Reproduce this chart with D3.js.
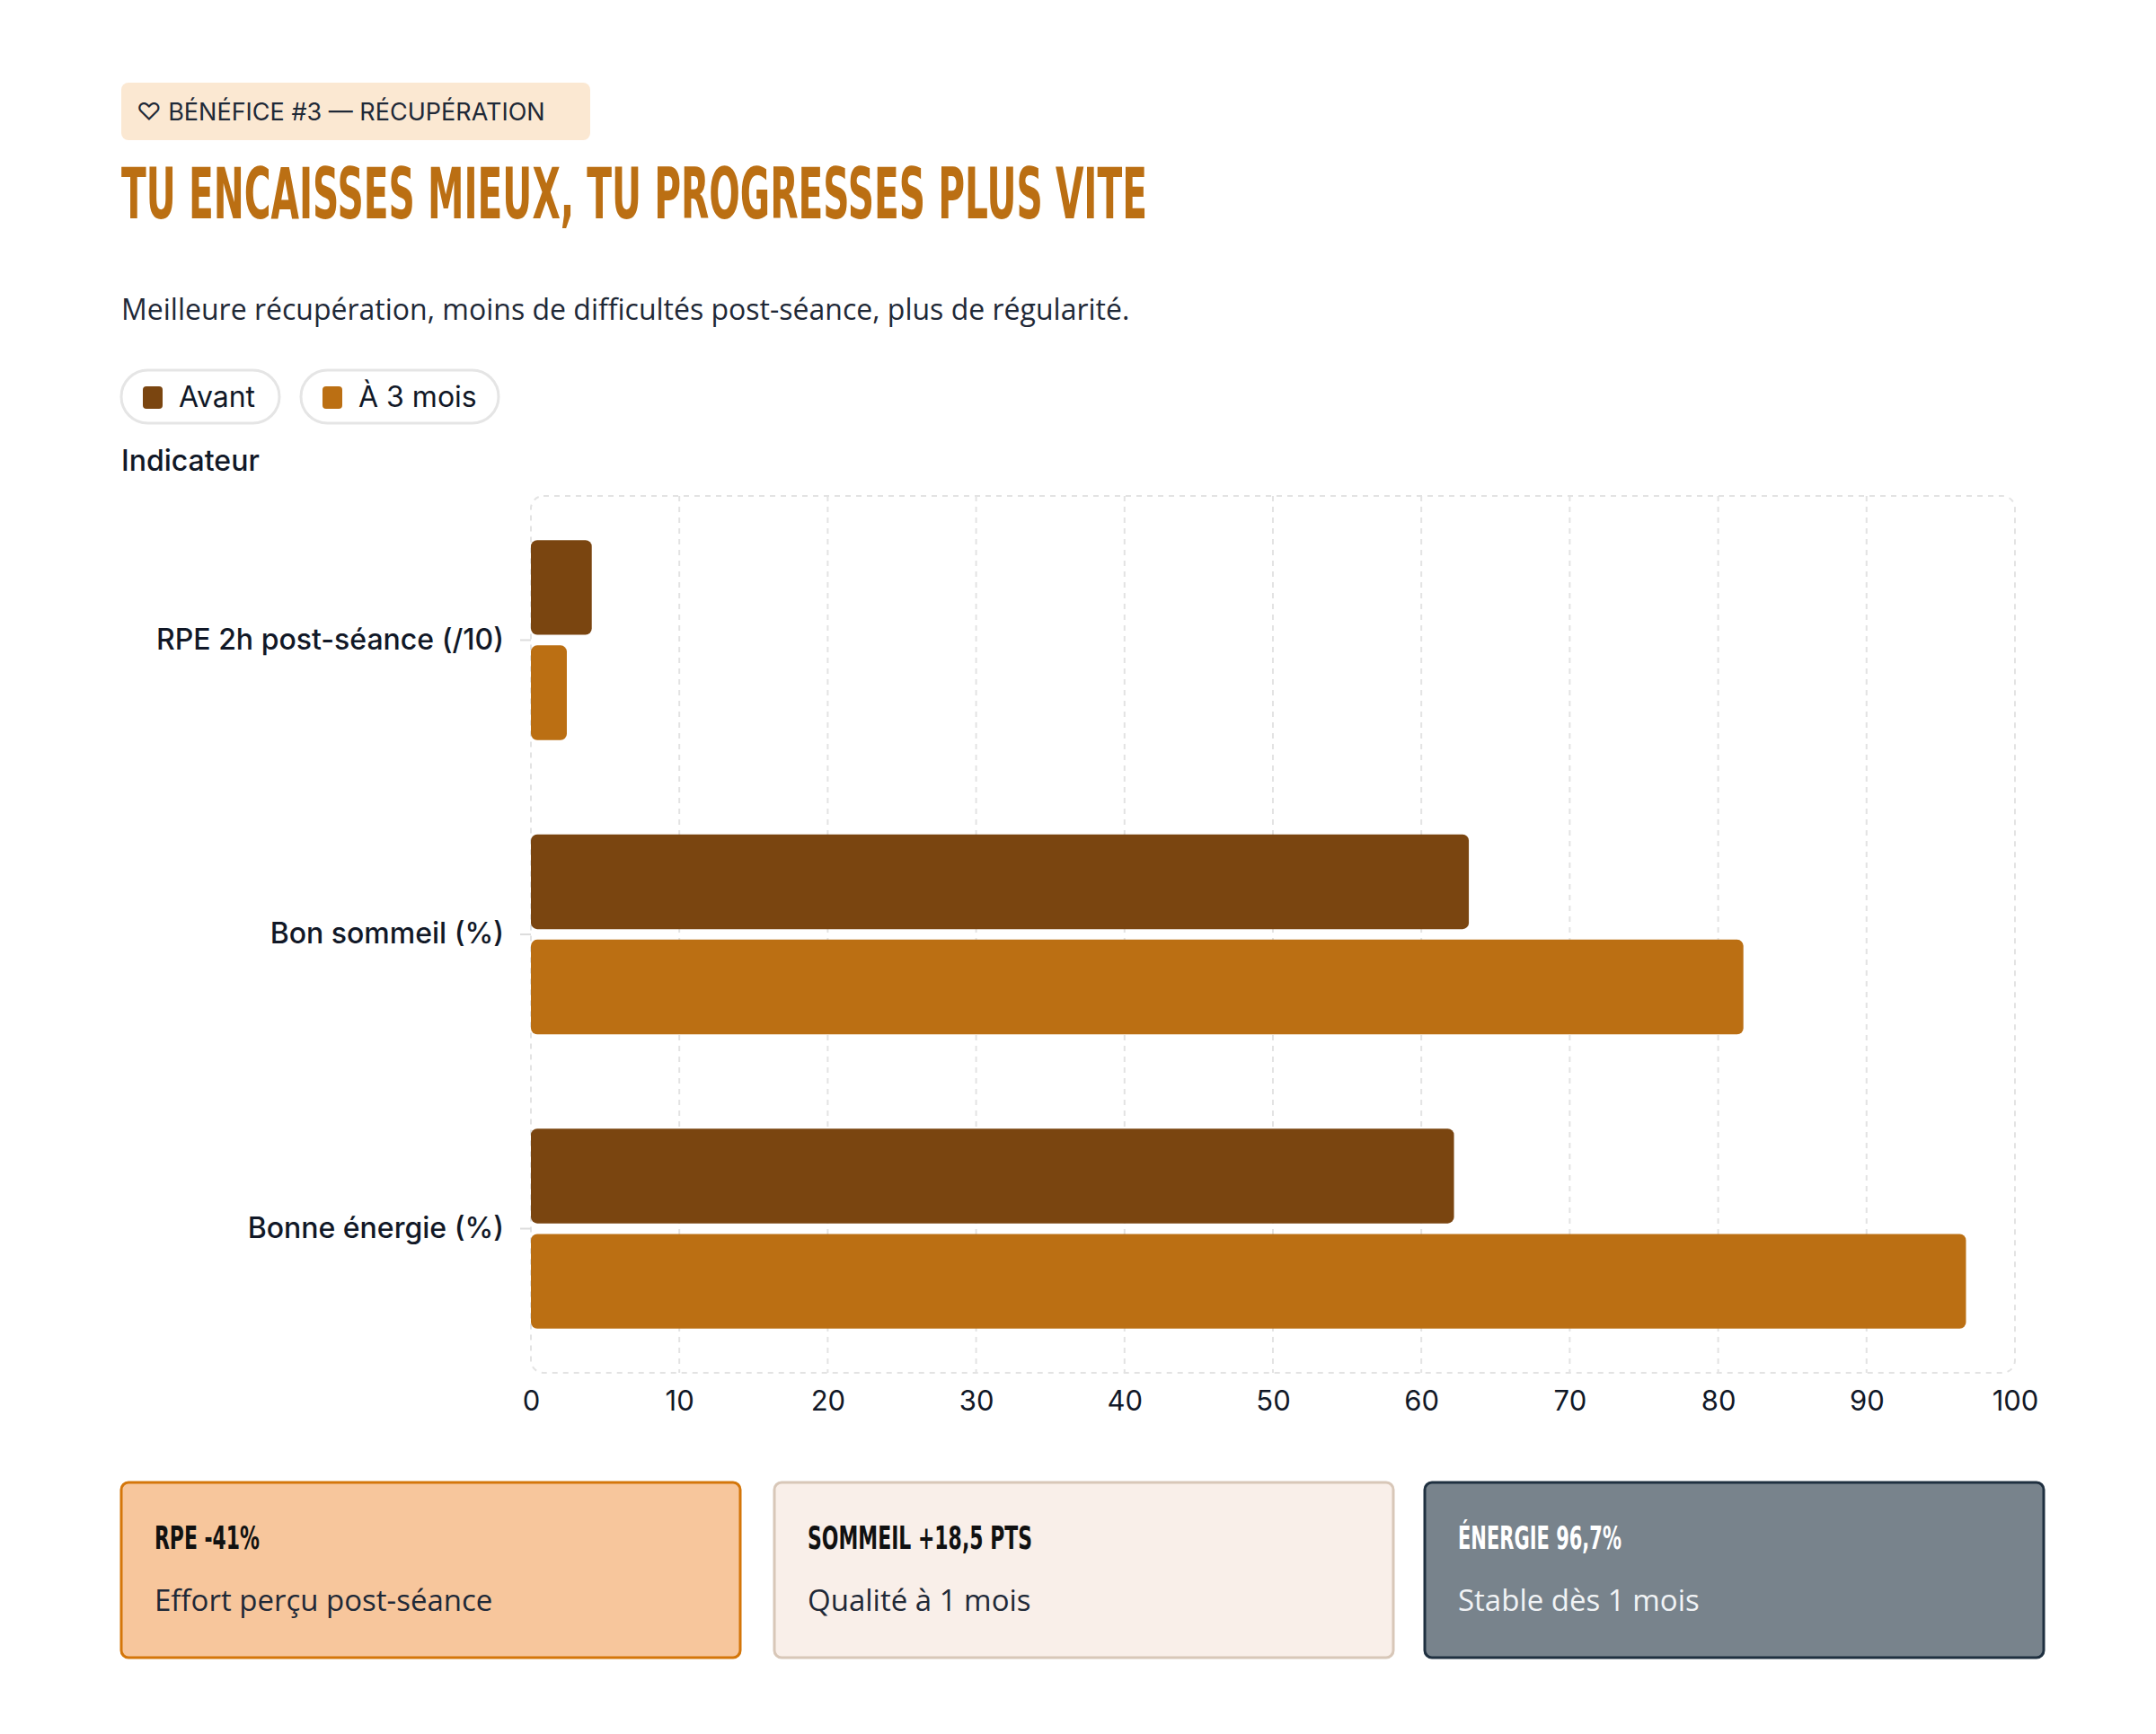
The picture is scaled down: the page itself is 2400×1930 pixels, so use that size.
<!DOCTYPE html>
<html><head><meta charset="utf-8">
<script src="https://cdn.jsdelivr.net/npm/d3@7"></script>
<style>body{margin:0;background:#fff}svg{display:block}</style>
</head><body>
<script>
const categories = ['RPE 2h post-séance (/10)', 'Bon sommeil (%)', 'Bonne énergie (%)'];
const seriesNames = ['Avant', 'À 3 mois'];
const avant = [4.1, 63.2, 62.2];
const apres = [2.42, 81.7, 96.7];
const xTicks = [0, 10, 20, 30, 40, 50, 60, 70, 80, 90, 100];
const cardTitles = ['RPE -41%', 'SOMMEIL +18,5 PTS', 'ÉNERGIE 96,7%'];
const cardTexts = ['Effort perçu post-séance', 'Qualité à 1 mois', 'Stable dès 1 mois'];

const W = 2400, H = 1930;
const colors = ['#7a4510', '#bb6f13'];
const sans = 'Inter, "Noto Sans", sans-serif';
const cond = '"DejaVu Sans", sans-serif';
const svg = d3.select('body').append('svg').attr('width', W).attr('height', H);

// badge
svg.append('rect').attr('x', 135).attr('y', 92).attr('width', 522).attr('height', 64).attr('rx', 8).attr('fill', '#fbe8d2');
svg.append('text').attr('x', 152).attr('y', 134).attr('font-family', sans).attr('font-size', 27).attr('fill', '#1f2937')
  .text('♡ BÉNÉFICE #3 — RÉCUPÉRATION');

// title
svg.append('text').attr('x', 135).attr('y', 243).attr('font-family', cond).attr('font-weight', 'bold')
  .attr('font-size', 78).attr('fill', '#bb6f13').attr('textLength', 1142).attr('lengthAdjust', 'spacingAndGlyphs')
  .text('TU ENCAISSES MIEUX, TU PROGRESSES PLUS VITE');

svg.append('text').attr('x', 135).attr('y', 356).attr('font-family', '"Open Sans", sans-serif').attr('font-size', 32)
  .attr('fill', '#1f2937').text('Meilleure récupération, moins de difficultés post-séance, plus de régularité.');

// legend
const pills = [[135, 176], [335, 220]];
seriesNames.forEach((n, i) => {
  const g = svg.append('g').attr('transform', `translate(${pills[i][0]},412)`);
  g.append('rect').attr('width', pills[i][1]).attr('height', 59).attr('rx', 29.5).attr('fill', '#fff').attr('stroke', '#e5e5e5').attr('stroke-width', 3);
  g.append('rect').attr('x', 24).attr('y', 18).attr('width', 22).attr('height', 25).attr('rx', 4).attr('fill', colors[i]);
  g.append('text').attr('x', 64).attr('y', 41).attr('font-family', sans).attr('font-size', 32).attr('fill', '#111827').text(n);
});

svg.append('text').attr('x', 135).attr('y', 524).attr('font-family', sans).attr('font-size', 32).attr('font-weight', 500)
  .attr('fill', '#111827').text('Indicateur');

// chart
const x = d3.scaleLinear().domain([0, 100]).range([591, 2243]);
const y = d3.scaleBand().domain(categories).range([552, 1528]).paddingInner(0.32).paddingOuter(0.15);
const ys = d3.scaleBand().domain(seriesNames).range([0, y.bandwidth()]).paddingInner(0.1);

svg.append('rect').attr('x', 591).attr('y', 552).attr('width', 1652).attr('height', 976).attr('rx', 14)
  .attr('fill', 'none').attr('stroke', '#e3e3e3').attr('stroke-width', 2).attr('stroke-dasharray', '6,6');
svg.append('g').selectAll('line').data(xTicks.slice(1, -1)).join('line')
  .attr('x1', d => x(d)).attr('x2', d => x(d)).attr('y1', 552).attr('y2', 1528)
  .attr('stroke', '#e3e3e3').attr('stroke-width', 2).attr('stroke-dasharray', '6,6');

const gx = svg.append('g').attr('transform', 'translate(0,1528)')
  .call(d3.axisBottom(x).tickValues(xTicks).tickSize(0).tickPadding(20));
gx.select('.domain').remove();
gx.selectAll('text').attr('font-family', sans).attr('font-size', 31).attr('fill', '#111827');

const gy = svg.append('g').attr('transform', 'translate(591,0)')
  .call(d3.axisLeft(y).tickSize(12).tickPadding(18));
gy.select('.domain').remove();
gy.selectAll('line').attr('stroke', '#dddddd').attr('stroke-width', 2);
gy.selectAll('text').attr('font-family', sans).attr('font-size', 32).attr('font-weight', 500).attr('fill', '#111827');

const data = categories.flatMap((c, i) => [
  { c, s: seriesNames[0], v: avant[i], col: colors[0] },
  { c, s: seriesNames[1], v: apres[i], col: colors[1] }
]);
svg.append('g').selectAll('rect').data(data).join('rect')
  .attr('x', x(0)).attr('y', d => y(d.c) + ys(d.s))
  .attr('width', d => x(d.v) - x(0)).attr('height', ys.bandwidth())
  .attr('rx', 7).attr('fill', d => d.col);

// cards
const cardX = [135, 862, 1586];
const cardFill = ['#f7c69c', '#f9efe9', '#78838c'];
const cardStroke = ['#d4760a', '#d8c7b8', '#1f3040'];
const cardInk = ['#111111', '#111111', '#ffffff'];
const cardTitleW = [117, 250, 182];
cardTitles.forEach((t, i) => {
  const g = svg.append('g').attr('transform', `translate(${cardX[i]},1650)`);
  g.append('rect').attr('width', 689).attr('height', 195).attr('rx', 8)
    .attr('fill', cardFill[i]).attr('stroke', cardStroke[i]).attr('stroke-width', 3);
  g.append('text').attr('x', 37).attr('y', 74).attr('font-family', cond).attr('font-weight', 'bold')
    .attr('font-size', 36).attr('fill', cardInk[i]).attr('textLength', cardTitleW[i]).attr('lengthAdjust', 'spacingAndGlyphs').text(t);
  g.append('text').attr('x', 37).attr('y', 143).attr('font-family', '"Open Sans", sans-serif')
    .attr('font-size', 33).attr('fill', i === 2 ? '#f1f3f5' : '#1f2937').text(cardTexts[i]);
});
</script>
</body></html>
